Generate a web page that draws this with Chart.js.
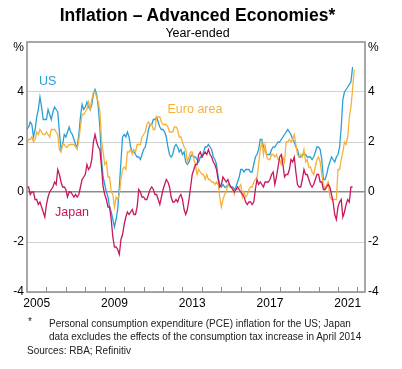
<!DOCTYPE html>
<html>
<head>
<meta charset="utf-8">
<script src="https://cdn.jsdelivr.net/npm/chart.js@4.4.1/dist/chart.umd.min.js"></script>
<style>
  body { margin: 0; background: #fff; }
  #wrap { position: relative; width: 402px; height: 369px; font-family: "Liberation Sans", Arial, sans-serif; color: #000; }
  canvas { position: absolute; left: 0; top: 0; }
  .t { position: absolute; white-space: nowrap; }
</style>
</head>
<body>
<div id="wrap">
  <canvas id="chart" width="402" height="369"></canvas>
  <div class="t" style="left:0;width:395px;text-align:center;top:6px;font-size:17.5px;line-height:18px;font-weight:bold;">Inflation – Advanced Economies*</div>
  <div class="t" style="left:0;width:395px;text-align:center;top:27px;font-size:12.5px;line-height:13px;">Year-ended</div>
  <div class="t" style="left:28px;top:316px;font-size:10px;line-height:12px;color:#222;">*</div>
  <div class="t" style="left:49px;top:318px;font-size:10px;line-height:12px;color:#222;">Personal consumption expenditure (PCE) inflation for the US; Japan</div>
  <div class="t" style="left:49px;top:331px;font-size:10px;line-height:12px;color:#222;">data excludes the effects of the consumption tax increase in April 2014</div>
  <div class="t" style="left:27px;top:345px;font-size:10px;line-height:12px;color:#222;">Sources: RBA; Refinitiv</div>
</div>
<script>
// monthly data, first value = January 2005
const startYear = 2005;

// US - PCE, year-ended %, Jan 2005 - Oct 2021
const usValues = [
  2.5, 2.6, 2.8, 2.7, 2.2, 2.5, 3.0, 3.3, 3.8, 3.4, 2.9, 2.9,
  2.9, 3.3, 3.1, 2.9, 3.2, 3.4, 3.3, 3.2, 2.4, 1.7, 1.9, 2.3,
  2.2, 2.4, 2.6, 2.4, 2.3, 2.1, 1.9, 1.8, 2.3, 3.0, 3.5, 3.3,
  3.4, 3.6, 3.4, 3.3, 3.5, 3.9, 4.1, 3.9, 3.4, 2.6, 1.3, 0.6,
  0.3, 0.0, -0.2, -0.6, -0.8, -1.1, -1.4, -1.1, -0.7, 0.2, 1.2, 2.2,
  2.3, 2.2, 2.4, 2.2, 1.8, 1.6, 1.6, 1.5, 1.4, 1.4, 1.3, 1.5,
  1.7, 1.8, 2.1, 2.5, 2.7, 2.7, 2.9, 2.9, 3.0, 2.8, 2.6, 2.5,
  2.5, 2.4, 2.2, 1.8, 1.5, 1.4, 1.5, 1.8, 1.9, 1.8, 1.6, 1.7,
  1.5, 1.6, 1.2, 1.1, 1.2, 1.4, 1.5, 1.4, 1.4, 1.3, 1.2, 1.4,
  1.4, 1.6, 1.8, 1.8, 1.9, 1.8, 1.7, 1.4, 1.3, 1.1, 0.6, 0.3,
  0.2, 0.3, 0.2, 0.2, 0.3, 0.3, 0.2, 0.2, 0.1, 0.2, 0.4, 0.6,
  0.9, 0.9, 0.8, 0.9, 0.9, 0.9, 0.8, 0.8, 1.1, 1.4, 1.5, 1.7,
  2.1, 2.1, 1.8, 1.7, 1.5, 1.5, 1.5, 1.7, 1.8, 1.8, 1.9, 2.0,
  2.0, 2.1, 2.2, 2.3, 2.4, 2.5, 2.4, 2.3, 2.1, 2.0, 1.8, 1.7,
  1.4, 1.4, 1.5, 1.5, 1.5, 1.4, 1.4, 1.4, 1.3, 1.4, 1.6, 1.8,
  1.8, 1.7, 1.3, 0.5, 0.5, 0.7, 1.0, 1.2, 1.4, 1.3, 1.2, 1.4,
  1.5, 1.8, 2.6, 3.7, 4.0, 4.1, 4.2, 4.3, 4.4, 5.0
];

// Euro area - HICP, Jan 2005 - Nov 2021
const euroValues = [
  2.0, 2.1, 2.1, 2.2, 2.0, 2.1, 2.4, 2.3, 2.5, 2.4, 2.3, 2.3,
  2.4, 2.3, 2.2, 2.5, 2.5, 2.5, 2.4, 2.3, 1.7, 1.6, 1.9, 1.9,
  1.8, 1.8, 1.9, 1.9, 1.9, 1.9, 1.8, 1.7, 2.1, 2.6, 3.1, 3.1,
  3.2, 3.3, 3.6, 3.3, 3.7, 4.0, 4.0, 3.8, 3.6, 3.2, 2.1, 1.6,
  1.1, 1.2, 0.6, 0.6, 0.0, -0.1, -0.6, -0.2, -0.3, -0.1, 0.5, 0.9,
  1.0, 0.9, 1.6, 1.6, 1.7, 1.5, 1.7, 1.6, 1.9, 1.9, 1.9, 2.2,
  2.3, 2.4, 2.7, 2.8, 2.7, 2.7, 2.5, 2.5, 3.0, 3.0, 3.0, 2.8,
  2.7, 2.7, 2.7, 2.6, 2.4, 2.4, 2.4, 2.6, 2.6, 2.5, 2.2, 2.2,
  2.0, 1.8, 1.7, 1.2, 1.4, 1.6, 1.6, 1.3, 1.1, 0.7, 0.9, 0.8,
  0.7, 0.7, 0.5, 0.7, 0.5, 0.5, 0.4, 0.4, 0.3, 0.4, 0.3, -0.2,
  -0.6, -0.3, -0.1, 0.0, 0.3, 0.2, 0.2, 0.1, -0.1, 0.1, 0.1, 0.2,
  0.3, -0.2, 0.0, -0.2, -0.1, 0.1, 0.2, 0.2, 0.4, 0.5, 0.6, 1.1,
  1.7, 2.0, 1.5, 1.9, 1.4, 1.3, 1.3, 1.5, 1.5, 1.4, 1.5, 1.3,
  1.3, 1.1, 1.4, 1.2, 2.0, 2.0, 2.1, 2.0, 2.1, 2.3, 1.9, 1.5,
  1.4, 1.5, 1.4, 1.7, 1.2, 1.3, 1.0, 1.0, 0.8, 0.7, 1.0, 1.3,
  1.4, 1.2, 0.7, 0.3, 0.1, 0.3, 0.4, -0.2, -0.3, -0.3, -0.3, -0.3,
  0.9, 0.9, 1.3, 1.6, 2.0, 1.9, 2.2, 3.0, 3.4, 4.1, 4.9
];

// Japan - CPI excl. consumption tax effects, Jan 2005 - Oct 2021
const japanValues = [
  0.2, 0.2, -0.1, 0.0, 0.0, -0.3, -0.3, -0.5, -0.4, -0.6, -0.8, -1.0,
  -0.5, -0.2, 0.0, 0.1, 0.2, 0.4, 0.3, 0.9, 0.7, 0.4, 0.2, 0.2,
  0.1, -0.2, 0.0, 0.0, -0.1, -0.2, -0.1, -0.2, -0.1, 0.2, 0.5, 0.6,
  0.7, 1.1, 0.9, 1.0, 1.3, 2.0, 2.3, 2.0, 1.8, 1.7, 1.0, 0.2,
  -0.1, -0.3, -0.6, -0.6, -1.1, -1.8, -2.2, -2.2, -2.3, -2.5, -1.9, -1.7,
  -1.3, -1.0, -0.8, -0.9, -0.8, -0.7, -0.9, -0.9, -0.6, 0.1, 0.0, -0.2,
  -0.2, -0.3, -0.3, -0.1, 0.1, 0.2, 0.1, -0.1, -0.1, -0.3, -0.5, -0.2,
  0.1, 0.3, 0.5, 0.4, 0.2, -0.2, -0.4, -0.4, -0.3, -0.4, -0.2, -0.1,
  -0.3, -0.7, -0.9, -0.7, -0.3, 0.2, 0.7, 0.9, 1.1, 1.1, 1.5, 1.6,
  1.4, 1.5, 1.6, 1.5, 1.7, 1.5, 1.4, 1.2, 1.1, 0.9, 0.5, 0.2,
  0.3, 0.6, 0.5, 0.4, 0.5, 0.3, 0.2, 0.1, 0.0, 0.1, 0.2, 0.1,
  0.0, -0.1, -0.2, -0.4, -0.5, -0.4, -0.4, -0.5, -0.4, 0.1, 0.5, 0.3,
  0.4, 0.3, 0.2, 0.4, 0.4, 0.4, 0.5, 0.7, 0.8, 0.3, 0.6, 1.0,
  1.4, 1.5, 1.1, 0.6, 0.7, 0.7, 0.9, 1.3, 1.2, 1.4, 0.8, 0.3,
  0.2, 0.2, 0.5, 0.9, 0.7, 0.7, 0.5, 0.3, 0.2, 0.3, 0.5, 0.7,
  0.7, 0.4, 0.4, 0.1, 0.1, 0.2, 0.3, 0.2, -0.1, -0.4, -0.9, -1.1,
  -0.6, -0.4, -0.3, -1.0, -0.8, -0.5, -0.3, -0.4, 0.2, 0.2
];

const xTickLabels = ['2005', '2009', '2013', '2017', '2021'];
const yTickValues = [-4, -2, 0, 2, 4];

// series name labels written inside the plot
const seriesLabels = [
  { text: 'US', x: 2005.62, y: 4.4, color: '#2a9fd6' },
  { text: 'Euro area', x: 2012.23, y: 3.28, color: '#f5b23a' },
  { text: 'Japan', x: 2006.44, y: -0.84, color: '#c8175f' }
];

function toPoints(values) {
  return values.map((v, i) => ({ x: startYear + i / 12, y: v }));
}

const FONT = '"Liberation Sans", Arial, sans-serif';
const BOX = '#8c8c8c';

// box, year ticks, % signs and series labels
const decor = {
  id: 'decor',
  afterDatasetsDraw(chart) {
    const { ctx, chartArea: a, scales } = chart;
    ctx.save();
    ctx.strokeStyle = BOX;
    ctx.lineWidth = 1;
    ctx.beginPath();
    for (let yr = 2006; yr <= 2022; yr++) {
      const px = Math.round(scales.x.getPixelForValue(yr)) + 0.5;
      ctx.moveTo(px, a.bottom);
      ctx.lineTo(px, a.bottom - 5);
    }
    ctx.stroke();
    ctx.lineWidth = 1.5;
    ctx.strokeRect(Math.round(a.left), Math.round(a.top), Math.round(a.right - a.left), Math.round(a.bottom - a.top));

    ctx.fillStyle = '#000';
    ctx.font = '12px ' + FONT;
    ctx.textBaseline = 'middle';
    ctx.textAlign = 'right';
    ctx.fillText('%', a.left - 3, a.top + 6);
    ctx.textAlign = 'left';
    ctx.fillText('%', a.right + 3, a.top + 6);

    ctx.font = '12.5px ' + FONT;
    seriesLabels.forEach(l => {
      ctx.fillStyle = l.color;
      ctx.fillText(l.text, scales.x.getPixelForValue(l.x), scales.y.getPixelForValue(l.y));
    });
    ctx.restore();
  }
};

const yTicksCommon = {
  font: { family: FONT, size: 12 },
  color: '#000',
  padding: 3
};

new Chart(document.getElementById('chart'), {
  type: 'line',
  data: {
    datasets: [
      { label: 'Japan', data: toPoints(japanValues), borderColor: '#c8175f' },
      { label: 'Euro area', data: toPoints(euroValues), borderColor: '#f5b23a' },
      { label: 'US', data: toPoints(usValues), borderColor: '#2a9fd6' }
    ]
  },
  options: {
    responsive: false,
    devicePixelRatio: 1,
    animation: false,
    layout: { padding: { top: 42, left: 0, right: 0, bottom: 0 } },
    elements: {
      line: { borderWidth: 1.3, tension: 0 },
      point: { radius: 0 }
    },
    plugins: { legend: { display: false }, tooltip: { enabled: false } },
    scales: {
      x: {
        type: 'linear',
        min: 2005,
        max: 2022.39,
        grid: { display: false, drawTicks: false },
        border: { display: false },
        afterBuildTicks: s => { s.ticks = xTickLabels.map(l => ({ value: Number(l) + 0.5 })); },
        afterFit: s => { s.height = 77; },
        ticks: {
          font: { family: FONT, size: 12 },
          color: '#000',
          padding: 4,
          maxRotation: 0,
          callback: v => String(Math.floor(v))
        }
      },
      y: {
        position: 'left',
        min: -4,
        max: 6,
        afterBuildTicks: s => { s.ticks = yTickValues.map(v => ({ value: v })); },
        afterFit: s => { s.width = 27; },
        grid: {
          drawTicks: false,
          color: c => (c.tick && c.tick.value === 0) ? '#8c8c8c' : '#d2d2d2',
          lineWidth: c => (c.tick && c.tick.value === 0) ? 1.5 : 1
        },
        border: { display: false },
        ticks: yTicksCommon
      },
      y2: {
        position: 'right',
        min: -4,
        max: 6,
        afterBuildTicks: s => { s.ticks = yTickValues.map(v => ({ value: v })); },
        afterFit: s => { s.width = 37; },
        grid: { display: false, drawTicks: false },
        border: { display: false },
        ticks: yTicksCommon
      }
    }
  },
  plugins: [decor]
});
</script>
</body>
</html>
